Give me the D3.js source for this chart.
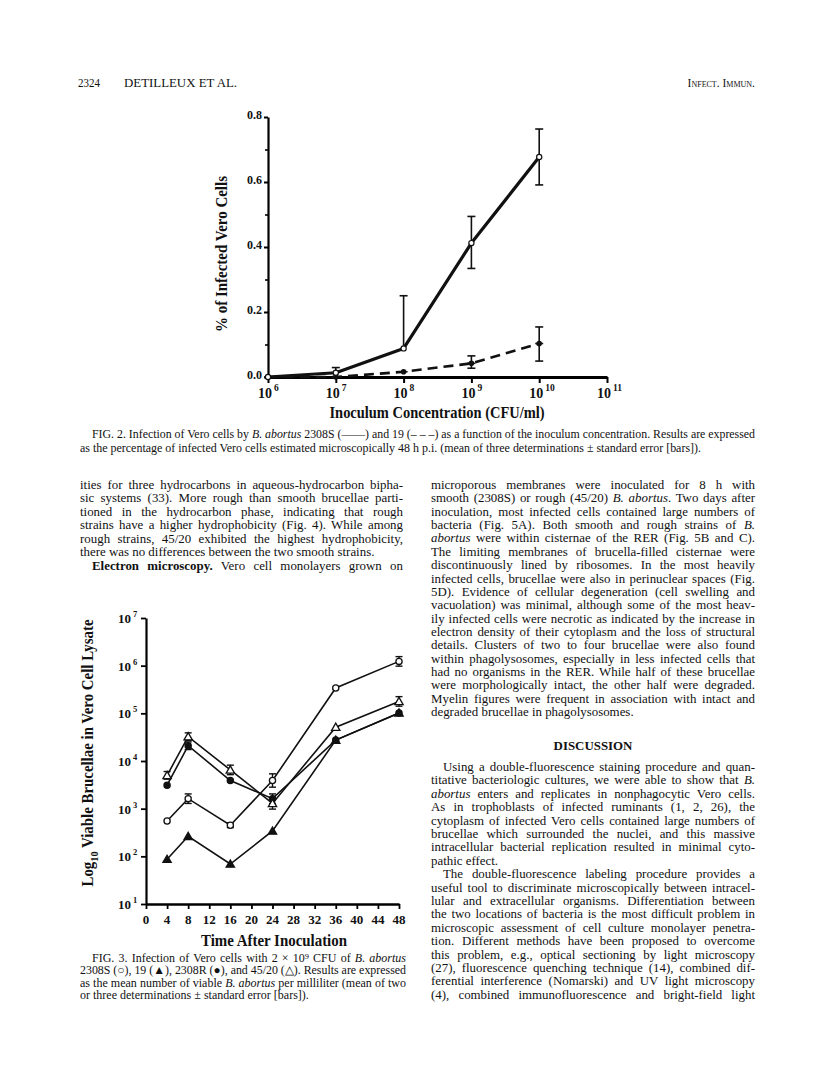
<!DOCTYPE html>
<html><head><meta charset="utf-8">
<script src="https://cdn.jsdelivr.net/npm/d3@7"></script>
<style>body{margin:0;background:#fff}svg{display:block}</style>
</head><body>
<script>
// ---------------- DATA ----------------
// Fig. 2
const fig2Conc = [1e6, 1e7, 1e8, 1e9, 1e10];
const fig2XTickExp = [6, 7, 8, 9, 10, 11];
const fig2YMajor = [0, 0.2, 0.4, 0.6, 0.8];
const fig2YMinor = [0.1, 0.3, 0.5, 0.7];
const s2308S = [0.0, 0.013, 0.088, 0.412, 0.677];
const s2308SUp = [0, 0.016, 0.162, 0.082, 0.086];
const s2308SDown = [0, 0, 0, 0.078, 0.086];
const s19 = [0.0, 0.0, 0.016, 0.042, 0.103];
const s19Up = [0, 0, 0, 0.023, 0.051];
const s19Down = [0, 0, 0, 0.015, 0.054];

// Fig. 3
const fig3Times = [4, 8, 16, 24, 36, 48];
const fig3XTicks = [0, 4, 8, 12, 16, 20, 24, 28, 32, 36, 40, 44, 48];
const fig3YTickExp = [1, 2, 3, 4, 5, 6, 7];
const f3_2308S = [550, 1620, 450, 3900, 340000, 1230000];
const f3_2308S_errLog = [0, 0.1, 0.05, 0.14, 0, 0.1];
const f3_19 = [87, 263, 69, 340, 27500, 102000];
const f3_19_errLog = [0, 0, 0, 0, 0, 0];
const f3_2308R = [3100, 20900, 3900, 1620, 27500, 102000];
const f3_2308R_errLog = [0, 0.08, 0, 0.1, 0, 0];
const f3_4520 = [5000, 32400, 6500, 1290, 51300, 178000];
const f3_4520_errLog = [0.08, 0.08, 0.1, 0.12, 0, 0.1];

// Texts
const headerLeftNum = "2324";
const headerLeft = "DETILLEUX ET AL.";
const headerRight = "Infect. Immun.";
const fig2YTitle = "% of Infected Vero Cells";
const fig2XTitle = "Inoculum Concentration (CFU/ml)";
const fig3XTitle = "Time After Inoculation";
const fig2Caption = [
  {t: "FIG. 2. Infection of Vero cells by *B. abortus* 2308S (——) and 19 (– – –) as a function of the inoculum concentration. Results are expressed", indent: 12, w: 663},
  {t: "as the percentage of infected Vero cells estimated microscopically 48 h p.i. (mean of three determinations ± standard error [bars]).", indent: 0, w: 621}
];
const leftCol = [
  {t: "ities for three hydrocarbons in aqueous-hydrocarbon bipha-", j: 1},
  {t: "sic systems (33). More rough than smooth brucellae parti-", j: 1},
  {t: "tioned in the hydrocarbon phase, indicating that rough", j: 1},
  {t: "strains have a higher hydrophobicity (Fig. 4). While among", j: 1},
  {t: "rough strains, 45/20 exhibited the highest hydrophobicity,", j: 1},
  {t: "there was no differences between the two smooth strains.", j: 0},
  {t: "**Electron microscopy.** Vero cell monolayers grown on", j: 1, indent: 12}
];
const rightCol = [
  {t: "microporous membranes were inoculated for 8 h with", j: 1},
  {t: "smooth (2308S) or rough (45/20) *B. abortus*. Two days after", j: 1},
  {t: "inoculation, most infected cells contained large numbers of", j: 1},
  {t: "bacteria (Fig. 5A). Both smooth and rough strains of *B.*", j: 1},
  {t: "*abortus* were within cisternae of the RER (Fig. 5B and C).", j: 1},
  {t: "The limiting membranes of brucella-filled cisternae were", j: 1},
  {t: "discontinuously lined by ribosomes. In the most heavily", j: 1},
  {t: "infected cells, brucellae were also in perinuclear spaces (Fig.", j: 1},
  {t: "5D). Evidence of cellular degeneration (cell swelling and", j: 1},
  {t: "vacuolation) was minimal, although some of the most heav-", j: 1},
  {t: "ily infected cells were necrotic as indicated by the increase in", j: 1},
  {t: "electron density of their cytoplasm and the loss of structural", j: 1},
  {t: "details. Clusters of two to four brucellae were also found", j: 1},
  {t: "within phagolysosomes, especially in less infected cells that", j: 1},
  {t: "had no organisms in the RER. While half of these brucellae", j: 1},
  {t: "were morphologically intact, the other half were degraded.", j: 1},
  {t: "Myelin figures were frequent in association with intact and", j: 1},
  {t: "degraded brucellae in phagolysosomes.", j: 0}
];
const discussionTitle = "DISCUSSION";
const discussion = [
  {t: "Using a double-fluorescence staining procedure and quan-", j: 1, indent: 12},
  {t: "titative bacteriologic cultures, we were able to show that *B.*", j: 1},
  {t: "*abortus* enters and replicates in nonphagocytic Vero cells.", j: 1},
  {t: "As in trophoblasts of infected ruminants (1, 2, 26), the", j: 1},
  {t: "cytoplasm of infected Vero cells contained large numbers of", j: 1},
  {t: "brucellae which surrounded the nuclei, and this massive", j: 1},
  {t: "intracellular bacterial replication resulted in minimal cyto-", j: 1},
  {t: "pathic effect.", j: 0},
  {t: "The double-fluorescence labeling procedure provides a", j: 1, indent: 12},
  {t: "useful tool to discriminate microscopically between intracel-", j: 1},
  {t: "lular and extracellular organisms. Differentiation between", j: 1},
  {t: "the two locations of bacteria is the most difficult problem in", j: 1},
  {t: "microscopic assessment of cell culture monolayer penetra-", j: 1},
  {t: "tion. Different methods have been proposed to overcome", j: 1},
  {t: "this problem, e.g., optical sectioning by light microscopy", j: 1},
  {t: "(27), fluorescence quenching technique (14), combined dif-", j: 1},
  {t: "ferential interference (Nomarski) and UV light microscopy", j: 1},
  {t: "(4), combined immunofluorescence and bright-field light", j: 1}
];
const fig3Caption = [
  {t: "FIG. 3. Infection of Vero cells with 2 × 10⁹ CFU of *B. abortus*", j: 1, indent: 12},
  {t: "2308S (○), 19 (▲), 2308R (●), and 45/20 (△). Results are expressed", j: 1},
  {t: "as the mean number of viable *B. abortus* per milliliter (mean of two", j: 1},
  {t: "or three determinations ± standard error [bars]).", j: 0}
];

// ---------------- DRAW ----------------
const W = 816, H = 1081;
const svg = d3.select("body").append("svg").attr("width", W).attr("height", H)
  .style("font-family", "'Liberation Serif','Times New Roman',serif");
svg.append("rect").attr("width", W).attr("height", H).attr("fill", "#fff");

function richText(sel, str) {
  const parts = str.split(/(\*\*[^*]+\*\*|\*[^*]+\*)/).filter(s => s.length);
  parts.forEach(p => {
    const ts = sel.append("tspan");
    if (p.startsWith("**")) { ts.text(p.slice(2, -2)).attr("font-weight", "bold"); }
    else if (p.startsWith("*")) { ts.text(p.slice(1, -1)).attr("font-style", "italic"); }
    else ts.text(p);
  });
}
// justified text: distribute extra room over word gaps
function block(lines, x0, width, y0, dy, size) {
  lines.forEach((ln, i) => {
    const ind = ln.indent || 0;
    const t = svg.append("text").attr("x", x0 + ind).attr("y", y0 + i * dy)
      .attr("font-size", size).attr("fill", "#111");
    richText(t, ln.t);
    if (ln.j) {
      const target = width - ind;
      const nat = t.node().getComputedTextLength();
      const plain = ln.t.replace(/\*/g, "");
      const nsp = (plain.match(/ /g) || []).length;
      if (nat > target || nsp === 0) {
        t.attr("textLength", target).attr("lengthAdjust", "spacingAndGlyphs");
      } else {
        t.attr("word-spacing", (target - nat) / nsp);
      }
    }
  });
}

// Header
svg.append("text").attr("x", 78).attr("y", 87).attr("font-size", 11.5).attr("fill", "#111")
  .attr("textLength", 22).attr("lengthAdjust", "spacingAndGlyphs").text(headerLeftNum);
svg.append("text").attr("x", 124).attr("y", 87).attr("font-size", 11.5).attr("fill", "#111")
  .attr("textLength", 113).attr("lengthAdjust", "spacingAndGlyphs").text(headerLeft);
svg.append("text").attr("x", 755).attr("y", 87).attr("font-size", 11.5).attr("fill", "#111")
  .attr("text-anchor", "end").style("font-variant", "small-caps").text(headerRight);

// ---------- Fig. 2 ----------
const x2 = d3.scaleLog().domain([1e6, 1e11]).range([268, 607]);
const y2 = d3.scaleLinear().domain([0, 0.8]).range([377, 117]);
const g2 = svg.append("g");

const xAx2 = g2.append("g").attr("transform", "translate(0,377)")
  .call(d3.axisBottom(x2).tickValues(fig2XTickExp.map(e => Math.pow(10, e))).tickFormat("").tickSize(6).tickSizeOuter(0));
xAx2.select(".domain").attr("stroke-width", 2.8);
xAx2.selectAll(".tick line").attr("stroke-width", 2);
const yAx2 = g2.append("g").attr("transform", "translate(268,0)")
  .call(d3.axisLeft(y2).tickValues(fig2YMajor).tickFormat(d3.format(".1f")).tickSize(4).tickPadding(2).tickSizeOuter(0));
yAx2.select(".domain").attr("stroke-width", 2.2);
yAx2.selectAll(".tick line").attr("stroke-width", 2);
yAx2.selectAll(".tick text").attr("font-family", "'Liberation Serif',serif").attr("font-weight", "bold")
  .attr("font-size", 12).attr("fill", "#111").attr("dy", "0.1em");
const yAx2m = g2.append("g").attr("transform", "translate(268,0)")
  .call(d3.axisLeft(y2).tickValues(fig2YMinor).tickFormat("").tickSize(3).tickSizeOuter(0));
yAx2m.select(".domain").remove();
yAx2m.selectAll(".tick line").attr("stroke-width", 1.6);

fig2XTickExp.forEach(e => {
  const t = g2.append("text").attr("x", x2(Math.pow(10, e)) - 10).attr("y", 398)
    .attr("font-weight", "bold").attr("font-size", 14).attr("fill", "#111");
  t.append("tspan").text("10");
  t.append("tspan").attr("dy", -7).attr("dx", 2).attr("font-size", 9.5).text(e);
});
g2.append("text").attr("transform", "translate(227,254) rotate(-90)").attr("text-anchor", "middle")
  .attr("font-weight", "bold").attr("font-size", 16).attr("fill", "#111")
  .attr("textLength", 156).attr("lengthAdjust", "spacingAndGlyphs").text(fig2YTitle);
g2.append("text").attr("x", 437).attr("y", 418).attr("text-anchor", "middle")
  .attr("font-weight", "bold").attr("font-size", 17).attr("fill", "#111")
  .attr("textLength", 215).attr("lengthAdjust", "spacingAndGlyphs").text(fig2XTitle);

const line2 = d3.line().x((d, i) => x2(fig2Conc[i])).y(d => y2(d));
g2.append("path").datum(s19).attr("d", line2).attr("fill", "none").attr("stroke", "#111")
  .attr("stroke-width", 2.6).attr("stroke-dasharray", "10,6");
g2.append("path").datum(s2308S).attr("d", line2).attr("fill", "none").attr("stroke", "#111")
  .attr("stroke-width", 3.2).attr("stroke-linejoin", "round");
function errBars2(g, vals, up, down) {
  vals.forEach((v, i) => {
    if (!up[i] && !down[i]) return;
    const x = x2(fig2Conc[i]);
    const yt = y2(v + up[i]), yb = y2(v - down[i]);
    g.append("line").attr("x1", x).attr("x2", x).attr("y1", yt).attr("y2", yb).attr("stroke", "#111").attr("stroke-width", 1.6);
    if (up[i]) g.append("line").attr("x1", x - 4).attr("x2", x + 4).attr("y1", yt).attr("y2", yt).attr("stroke", "#111").attr("stroke-width", 1.6);
    if (down[i]) g.append("line").attr("x1", x - 4).attr("x2", x + 4).attr("y1", yb).attr("y2", yb).attr("stroke", "#111").attr("stroke-width", 1.6);
  });
}
errBars2(g2, s2308S, s2308SUp, s2308SDown);
errBars2(g2, s19, s19Up, s19Down);
s19.forEach((v, i) => {
  g2.append("circle").attr("cx", x2(fig2Conc[i])).attr("cy", y2(v)).attr("r", 2.8).attr("fill", "#111");
  g2.append("line").attr("x1", x2(fig2Conc[i]) - 4).attr("x2", x2(fig2Conc[i]) + 4).attr("y1", y2(v)).attr("y2", y2(v)).attr("stroke", "#111").attr("stroke-width", 1.5);
});
s2308S.forEach((v, i) => {
  g2.append("circle").attr("cx", x2(fig2Conc[i])).attr("cy", y2(v)).attr("r", 2.6)
    .attr("fill", "#fff").attr("stroke", "#111").attr("stroke-width", 1.2);
});

// Fig 2 caption (condensed)
fig2Caption.forEach((ln, i) => {
  const t = svg.append("text").attr("x", 80 + ln.indent).attr("y", 438 + i * 14)
    .attr("font-size", 11.8).attr("fill", "#111")
    .attr("textLength", ln.w).attr("lengthAdjust", "spacingAndGlyphs");
  richText(t, ln.t);
});

// Body columns
block(leftCol, 80, 323, 489, 13.45, 12.9);
block(rightCol, 431, 324, 489, 13.36, 12.9);
svg.append("text").attr("x", 593).attr("y", 750).attr("text-anchor", "middle")
  .attr("font-weight", "bold").attr("font-size", 12.9).attr("fill", "#111").text(discussionTitle);
block(discussion, 431, 324, 771, 13.4, 12.9);

// ---------- Fig. 3 ----------
const x3 = d3.scaleLinear().domain([0, 48]).range([146, 399]);
const y3 = d3.scaleLog().domain([10, 1e7]).range([904, 618]);
const g3 = svg.append("g");
const xAx3 = g3.append("g").attr("transform", "translate(0,904)")
  .call(d3.axisBottom(x3).tickValues(fig3XTicks).tickFormat("").tickSize(5).tickSizeOuter(0));
xAx3.select(".domain").attr("stroke-width", 2.4);
xAx3.selectAll(".tick line").attr("stroke-width", 1.8);
const yAx3 = g3.append("g").attr("transform", "translate(146,0)")
  .call(d3.axisLeft(y3).tickValues(fig3YTickExp.map(e => Math.pow(10, e))).tickFormat("").tickSize(5).tickSizeOuter(0));
yAx3.select(".domain").attr("stroke-width", 2.2);
yAx3.selectAll(".tick line").attr("stroke-width", 1.8);
fig3XTicks.forEach(v => {
  g3.append("text").attr("x", x3(v)).attr("y", 924).attr("text-anchor", "middle")
    .attr("font-weight", "bold").attr("font-size", 13).attr("fill", "#111").text(v);
});
fig3YTickExp.forEach(e => {
  const t = g3.append("text").attr("x", 118).attr("y", y3(Math.pow(10, e)) + 5)
    .attr("font-weight", "bold").attr("font-size", 13).attr("fill", "#111");
  t.append("tspan").text("10");
  t.append("tspan").attr("dy", -6).attr("dx", 2).attr("font-size", 8.5).text(e);
});
const yt3 = g3.append("text").attr("transform", "translate(93,753) rotate(-90)").attr("text-anchor", "middle")
  .attr("font-weight", "bold").attr("font-size", 16).attr("fill", "#111")
  .attr("textLength", 267).attr("lengthAdjust", "spacingAndGlyphs");
yt3.append("tspan").text("Log");
yt3.append("tspan").attr("dy", 5).attr("font-size", 11).text("10");
yt3.append("tspan").attr("dy", -5).text(" Viable Brucellae in Vero Cell Lysate");
g3.append("text").attr("x", 274).attr("y", 946).attr("text-anchor", "middle")
  .attr("font-weight", "bold").attr("font-size", 17).attr("fill", "#111")
  .attr("textLength", 146).attr("lengthAdjust", "spacingAndGlyphs").text(fig3XTitle);

const line3 = d3.line().x((d, i) => x3(fig3Times[i])).y(d => y3(d));
const series3 = [
  {v: f3_19, e: f3_19_errLog, sym: d3.symbolTriangle, fill: "#111"},
  {v: f3_2308R, e: f3_2308R_errLog, sym: d3.symbolCircle, fill: "#111"},
  {v: f3_4520, e: f3_4520_errLog, sym: d3.symbolTriangle, fill: "#fff"},
  {v: f3_2308S, e: f3_2308S_errLog, sym: d3.symbolCircle, fill: "#fff"}
];
series3.forEach(s => {
  g3.append("path").datum(s.v).attr("d", line3).attr("fill", "none").attr("stroke", "#111").attr("stroke-width", 1.6);
});
series3.forEach(s => {
  s.v.forEach((v, i) => {
    if (!s.e[i]) return;
    const x = x3(fig3Times[i]);
    const yt = y3(v * Math.pow(10, s.e[i])), yb = y3(v / Math.pow(10, s.e[i]));
    g3.append("line").attr("x1", x).attr("x2", x).attr("y1", yt).attr("y2", yb).attr("stroke", "#111").attr("stroke-width", 1.4);
    [yt, yb].forEach(yy => g3.append("line").attr("x1", x - 3.5).attr("x2", x + 3.5).attr("y1", yy).attr("y2", yy).attr("stroke", "#111").attr("stroke-width", 1.4));
  });
});
series3.forEach(s => {
  s.v.forEach((v, i) => {
    const tri = s.sym === d3.symbolTriangle;
    g3.append("path").attr("d", d3.symbol().type(s.sym).size(30)())
      .attr("transform", `translate(${x3(fig3Times[i])},${y3(v) + (tri ? 0.8 : 0)})`)
      .attr("fill", s.fill).attr("stroke", "#111").attr("stroke-width", 1.3);
  });
});

// Fig 3 caption
block(fig3Caption, 80, 326, 962, 12.3, 12);
</script>
</body></html>
